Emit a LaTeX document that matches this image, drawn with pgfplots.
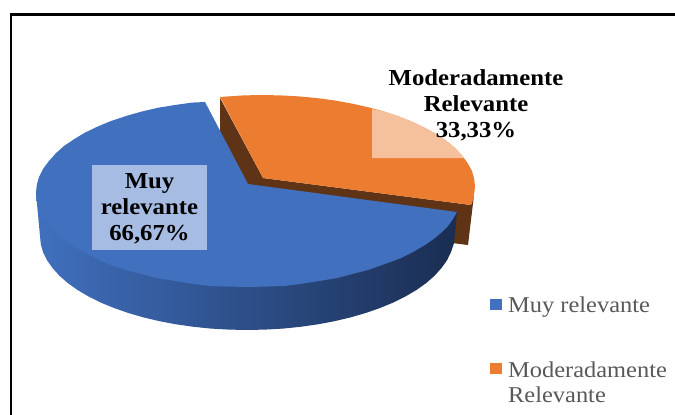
\documentclass[border=0pt]{standalone}
\usepackage{pgfplots}
\pgfplotsset{compat=1.18}
\usepackage{fontspec}
\setmainfont{Liberation Serif}
\newfontfamily\lblfont[FakeStretch=1.08]{Liberation Serif}
\definecolor{pieblue}{HTML}{4070BE}
\definecolor{pieorange}{HTML}{EC7C30}
\definecolor{piebrown}{HTML}{5F3316}
\definecolor{peach}{HTML}{F4C19C}
\definecolor{labelblue}{HTML}{A6BCE3}
\definecolor{legtext}{HTML}{595959}
\definecolor{sidemid}{HTML}{284374}
\definecolor{sidedark}{HTML}{1A2D52}
\begin{document}
\begin{tikzpicture}
\begin{axis}[
  scale only axis, width=675bp, height=415bp,
  xmin=0, xmax=675, ymin=0, ymax=415, y dir=reverse,
  axis lines=none, ticks=none, clip=true, no markers]
% page
\addplot[draw=none, fill=white] coordinates {(0,0) (675,0) (675,415) (0,415)} --cycle;
% frame
\addplot[black, line width=2.2bp] coordinates {(11,416) (11,14.5) (676,14.5)};
% orange wedge walls
\addplot[draw=none, fill=piebrown] coordinates {(220,98) (220,146) (263,222) (452,243) (468,245) (474,195) (471,205) (263,178)} --cycle;
% blue side wall
\addplot[draw=none, left color=pieblue, middle color=sidemid, right color=sidedark] coordinates {
 (36,193) (40,236) (40.8,244.2) (43,252) (47.1,260.3) (52.5,268) (59.4,275.7) (67.7,283) (77.4,289.9) (88.4,296.4)
 (100.6,302.5) (114,308) (128.3,313) (143.5,317.4) (159.5,321.2) (176,324.3) (193.4,326.8) (211,328.6) (229,329.6) (247,330)
 (265,329.6) (283,328.6) (300.6,326.8) (318,324.3) (334.5,321.2) (350.5,317.4) (365.7,313) (380,308) (393.4,302.5) (405.6,296.4)
 (416.6,289.9) (426.3,283) (434.6,275.7) (441.5,268) (447,260.3) (451,252) (454,243) (457,212)} --cycle;
% blue top
\addplot[draw=none, fill=pieblue] coordinates {
 (248,184) (205,102) (192,102.6) (175,105) (157.8,107.8) (141.5,111.6) (126,116) (111,121) (97.8,126.5) (85,132.6) (74.2,139.1)
 (64,146) (55.8,153.3) (49,161) (43.2,168.7) (39,177) (36.8,184.8) (36,193)
 (36.8,201.2) (39,209) (43.2,217.3) (49,225) (55.8,232.7) (64,240) (74.2,246.9) (85,253) (97.8,259.5) (111,265) (126,270)
 (141.5,274) (157.8,278.2) (175,281) (192.4,283.8) (210,286) (228.6,286.6) (247,287) (265.4,286.6) (284,286) (301.6,283.8)
 (319,281) (336.2,278.2) (352.5,274) (368,270) (385,264) (400,258.5) (413,252) (425,245) (435,238) (442,232) (448,226) (453,219) (457,212)} --cycle;
% orange top
\addplot[draw=none, fill=pieorange] coordinates {
 (263,178) (220,97) (243.4,95.4) (262,95) (280.6,95.4) (299,96.4) (317.1,98.1) (335,100.5) (352,103.6) (368.5,107.3) (384.2,111.6)
 (399,116.5) (412.6,122) (425,128) (436.5,134.2) (446.5,141) (455,148.1) (462,155.5) (467.7,163.2) (472,171) (474.2,179)
 (475,187) (474,195) (472,203) (471,205)} --cycle;
% data label backgrounds
\addplot[draw=none, fill=labelblue] coordinates {(92,165) (207,165) (207,250) (92,250)} --cycle;
\addplot[draw=none, fill=peach] coordinates {(372,109) (384.2,111.6) (399,116.5) (412.6,122) (425,128) (436.5,134.2) (446.5,141) (455,148.1) (462,155.5) (464,158) (372,158)} --cycle;
% legend keys
\addplot[draw=none, fill=pieblue] coordinates {(490,299) (502,299) (502,310) (490,310)} --cycle;
\addplot[draw=none, fill=pieorange] coordinates {(490,363) (502,363) (502,374) (490,374)} --cycle;
% texts
\node[align=center, font=\lblfont\bfseries\fontsize{23}{26}\selectfont, text=black] at (axis cs:149.5,209) {Muy\\relevante\\66,67\%};
\node[align=center, font=\lblfont\bfseries\fontsize{23}{26}\selectfont, text=black] at (axis cs:476,105) {Moderadamente\\Relevante\\33,33\%};
\node[anchor=base west, inner sep=0pt, font=\lblfont\fontsize{22.7}{26}\selectfont, text=legtext] at (axis cs:508,312) {Muy relevante};
\node[anchor=base west, inner sep=0pt, font=\lblfont\fontsize{22.7}{26}\selectfont, text=legtext] at (axis cs:508,377) {Moderadamente};
\node[anchor=base west, inner sep=0pt, font=\lblfont\fontsize{22.7}{26}\selectfont, text=legtext] at (axis cs:508,402) {Relevante};
\end{axis}
\end{tikzpicture}
\end{document}
